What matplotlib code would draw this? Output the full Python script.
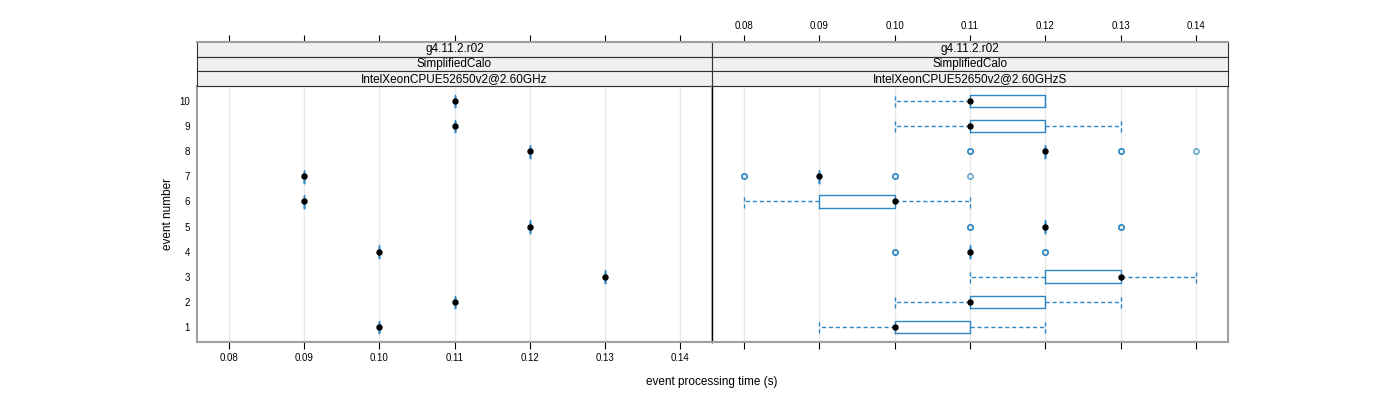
import numpy as np
import matplotlib.pyplot as plt

plt.rcParams['font.family'] = ['Liberation Sans', 'DejaVu Sans']

# Data
events = np.arange(1, 11)
strip_labels = ['g4.11.2.r02', 'SimplifiedCalo']
machines = ['IntelXeonCPUE52650v2@2.60GHz', 'IntelXeonCPUE52650v2@2.60GHzS']

# left panel: one timing per event
single_time = [0.10, 0.11, 0.13, 0.10, 0.12, 0.09, 0.09, 0.12, 0.11, 0.11]

# right panel: box statistics per event
q1 = [0.10, 0.11, 0.12, 0.11, 0.12, 0.09, 0.09, 0.12, 0.11, 0.11]
med = [0.10, 0.11, 0.13, 0.11, 0.12, 0.10, 0.09, 0.12, 0.11, 0.11]
q3 = [0.11, 0.12, 0.13, 0.11, 0.12, 0.10, 0.09, 0.12, 0.12, 0.12]
wlo = [0.09, 0.10, 0.11, 0.11, 0.12, 0.08, 0.09, 0.12, 0.10, 0.10]
whi = [0.12, 0.13, 0.14, 0.11, 0.12, 0.11, 0.09, 0.12, 0.13, 0.12]
fliers = [[], [], [],
          [0.10, 0.10, 0.12, 0.12],
          [0.11, 0.11, 0.13, 0.13],
          [],
          [0.08, 0.08, 0.10, 0.10, 0.11],
          [0.11, 0.11, 0.13, 0.13, 0.14],
          [], []]

xticks = [0.08, 0.09, 0.10, 0.11, 0.12, 0.13, 0.14]
xlim = (0.0758, 0.1442)
ylim = (0.4, 10.6)

box_col = '#2f88c6'
flier_col = '#0a74b8'
grey = '#a0a0a0'

W, H = 1400, 400
fig = plt.figure(figsize=(14, 4), dpi=100)

panels = [(197, 712), (712, 1228)]
y_top, y_bot = 86, 342
strip_h = 44 / 3


def fx(px):
    return px / W


def fy(py):
    return 1 - py / H


stats_sets = []
stats_sets.append([dict(q1=v, med=v, q3=v, whislo=v, whishi=v, fliers=[])
                   for v in single_time])
stats_sets.append([dict(q1=a, med=b, q3=c, whislo=d, whishi=e, fliers=f)
                   for a, b, c, d, e, f in zip(q1, med, q3, wlo, whi, fliers)])
medians = [single_time, med]

for i, (x0, x1) in enumerate(panels):
    ax = fig.add_axes([fx(x0), fy(y_bot), fx(x1 - x0), (y_bot - y_top) / H])
    for xt in xticks:
        ax.axvline(xt, color='#e8e8e8', lw=1, zorder=0)
    ax.bxp(stats_sets[i], positions=events, widths=0.5, orientation='horizontal',
           showfliers=True, capwidths=0.5,
           boxprops=dict(color=box_col, lw=1),
           whiskerprops=dict(color=box_col, lw=1, linestyle=(0, (3, 2))),
           capprops=dict(color=box_col, lw=1, linestyle=(0, (3, 2))),
           medianprops=dict(linestyle='none'),
           flierprops=dict(marker='o', markersize=3.8, markerfacecolor='none',
                           markeredgecolor=flier_col, markeredgewidth=1.2,
                           alpha=0.6, linestyle='none'))
    ax.plot(medians[i], events, 'o', color='black', markersize=3.6, zorder=5)
    ax.set_xlim(xlim)
    ax.set_ylim(ylim)
    ax.set_xticks(xticks)
    ax.set_yticks(events)
    for s in ax.spines.values():
        s.set_color(grey)
        s.set_linewidth(1.5)
    if i == 0:
        ax.spines['right'].set_color('black')
        ax.spines['right'].set_linewidth(1)
        ax.set_yticklabels([str(e) for e in events])
        ax.tick_params(axis='y', length=0, pad=5, labelsize=7)
        ax.set_xticklabels(['%.2f' % t for t in xticks])
        ax.set_ylabel('event number', fontsize=8.5, labelpad=4)
    else:
        ax.spines['left'].set_color('black')
        ax.spines['left'].set_linewidth(1)
        ax.set_yticklabels([])
        ax.tick_params(axis='y', length=0)
        ax.set_xticklabels([])
    ax.tick_params(axis='x', direction='out', length=5, width=0.8,
                   labelsize=7, pad=3)

    # strips
    labels = strip_labels + [machines[i]]
    for k, lab in enumerate(labels):
        top = 42 + k * strip_h
        sax = fig.add_axes([fx(x0), fy(top + strip_h), fx(x1 - x0), strip_h / H])
        sax.set_facecolor('#f0f0f0')
        sax.set_xlim(xlim)
        sax.set_yticks([])
        sax.text(0.5, 0.5, lab, transform=sax.transAxes, ha='center',
                 va='center', fontsize=8.5)
        for s in sax.spines.values():
            s.set_color('#303030')
            s.set_linewidth(0.8)
        if k == 0:
            sax.spines['top'].set_color(grey)
            sax.spines['top'].set_linewidth(1.5)
            sax.xaxis.tick_top()
            sax.set_xticks(xticks)
            if i == 1:
                sax.set_xticklabels(['%.2f' % t for t in xticks])
            else:
                sax.set_xticklabels([])
            sax.tick_params(axis='x', direction='out', length=5, width=0.8,
                            labelsize=7, pad=3)
        else:
            sax.set_xticks([])

fig.text(fx(712), fy(382), 'event processing time (s)', ha='center',
         va='center', fontsize=8.5)

fig.savefig('out.png', dpi=100)
